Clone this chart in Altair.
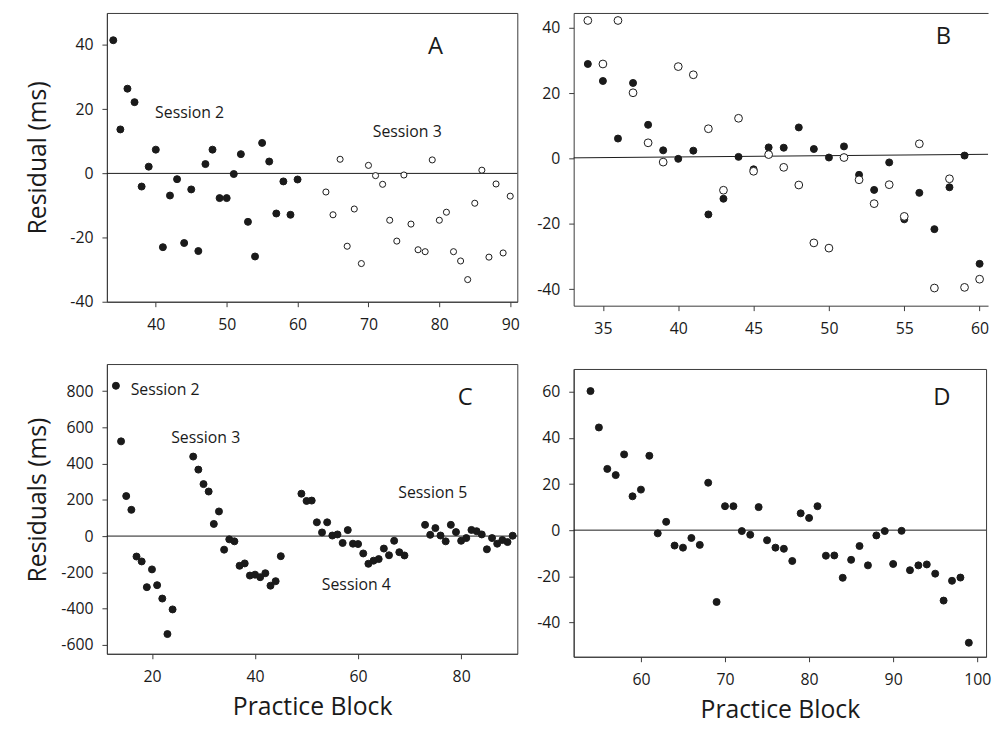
import altair as alt
import pandas as pd

FONT = "Open Sans"
INK = "#1a1a1a"
FRAME = "#3a3a3a"

# ---------------- data: panel A ----------------
a_s2_block = [34, 35, 36, 37, 38, 39, 40, 41, 42, 43, 44, 45, 46, 47, 48, 49, 50,
              51, 52, 53, 54, 55, 56, 57, 58, 59, 60]
a_s2_resid = [41.5, 13.7, 26.4, 22.2, -4.1, 2.1, 7.4, -23.0, -6.9, -1.8, -21.7, -5.0,
              -24.2, 2.9, 7.4, -7.7, -7.7, -0.2, 6.0, -15.1, -25.9, 9.5, 3.7, -12.5,
              -2.5, -12.9, -1.9]
a_s3_block = [64, 65, 66, 67, 68, 69, 70, 71, 72, 73, 74, 75, 76, 77, 78, 79, 80,
              81, 82, 83, 84, 85, 86, 87, 88, 89, 90]
a_s3_resid = [-5.8, -12.9, 4.4, -22.7, -11.1, -28.1, 2.5, -0.7, -3.4, -14.6, -21.1,
              -0.5, -15.8, -23.8, -24.4, 4.2, -14.6, -12.1, -24.4, -27.3, -33.1, -9.3,
              1.0, -26.1, -3.3, -24.8, -7.1]
a_note_text = ["Session 2", "Session 3"]
a_note_block = [39.9, 70.6]
a_note_resid = [18.9, 12.8]
a_letter = ["A"]
a_letter_block = [79.46]
a_letter_resid = [39.5]
a_xticks = [40, 50, 60, 70, 80, 90]
a_yticks = [-40, -20, 0, 20, 40]

# ---------------- data: panel B ----------------
b_block = [34, 35, 36, 37, 38, 39, 40, 41, 42, 43, 44, 45, 46, 47, 48, 49, 50,
           51, 52, 53, 54, 55, 56, 57, 58, 59, 60]
b_filled = [28.9, 23.7, 6.1, 23.1, 10.3, 2.5, -0.1, 2.4, -17.1, -12.3, 0.5, -3.3,
            3.4, 3.3, 9.5, 2.9, 0.3, 3.7, -5.0, -9.6, -1.2, -18.6, -10.5, -21.6,
            -8.8, 0.9, -32.2]
b_open = [42.2, 28.9, 42.2, 20.1, 4.8, -1.1, 28.1, 25.6, 9.1, -9.7, 12.3, -3.9,
          1.2, -2.7, -8.1, -25.8, -27.4, 0.3, -6.5, -13.8, -8.0, -17.7, 4.5, -39.6,
          -6.2, -39.4, -36.9]
b_fit_block = [33.06, 60.56]
b_fit_resid = [0.2, 1.29]
b_letter = ["B"]
b_letter_block = [57.59]
b_letter_resid = [37.0]
b_xticks = [35, 40, 45, 50, 55, 60]
b_yticks = [-40, -20, 0, 20, 40]

# ---------------- data: panel C ----------------
c_block = [13, 14, 15, 16, 17, 18, 19, 20, 21, 22, 23, 24,
           28, 29, 30, 31, 32, 33, 34, 35, 36, 37, 38, 39, 40, 41, 42, 43, 44, 45,
           49, 50, 51, 52, 53, 54, 55, 56, 57, 58, 59, 60, 61, 62, 63, 64, 65, 66,
           67, 68, 69,
           73, 74, 75, 76, 77, 78, 79, 80, 81, 82, 83, 84, 85, 86, 87, 88, 89, 90]
c_resid = [830, 523, 221, 145, -113, -140, -282, -184, -271, -345, -541, -405,
           439, 367, 287, 246, 67, 136, -75, -18, -29, -164, -151, -218, -213, -227,
           -205, -274, -249, -111,
           234, 194, 196, 76, 20, 76, 3, 9, -38, 33, -42, -44, -96, -153, -136, -127,
           -69, -106, -26, -89, -107,
           62, 7, 44, 3, -29, 62, 22, -26, -11, 34, 27, 9, -73, -11, -42, -22, -33, 2]
c_note_text = ["Session 2", "Session 3", "Session 4", "Session 5"]
c_note_block = [15.86, 23.73, 52.96, 67.8]
c_note_resid = [808, 540, -272, 240]
c_letter = ["C"]
c_letter_block = [80.79]
c_letter_resid = [763]
c_xticks = [20, 40, 60, 80]
c_yticks = [-600, -400, -200, 0, 200, 400, 600, 800]

# ---------------- data: panel D ----------------
d_block = [54, 55, 56, 57, 58, 59, 60, 61, 62, 63, 64, 65, 66, 67, 68, 69, 70, 71,
           72, 73, 74, 75, 76, 77, 78, 79, 80, 81, 82, 83, 84, 85, 86, 87, 88, 89,
           90, 91, 92, 93, 94, 95, 96, 97, 98, 99]
d_resid = [60.4, 44.6, 26.6, 23.9, 32.9, 14.7, 17.6, 32.3, -1.4, 3.6, -6.7, -7.6,
           -3.4, -6.4, 20.6, -31.2, 10.4, 10.4, -0.4, -2.0, 10.0, -4.4, -7.6, -8.1,
           -13.4, 7.3, 5.3, 10.4, -11.1, -11.0, -20.7, -12.9, -6.9, -15.3, -2.3, -0.4,
           -14.7, -0.3, -17.4, -15.3, -14.9, -18.9, -30.6, -22.0, -20.6, -48.9]
d_letter = ["D"]
d_letter_block = [95.8]
d_letter_resid = [57.3]
d_xticks = [60, 70, 80, 90, 100]
d_yticks = [-40, -20, 0, 20, 40, 60]

zero_level = [0]

y_title_top = "Residual (ms)"
y_title_bottom = "Residuals (ms)"
x_title = "Practice Block"

# ---------------- helpers ----------------
def x_axis(values, title=None, **kw):
    return alt.Axis(values=values, title=title, grid=False, tickSize=5,
                    tickColor=FRAME, domainColor=FRAME, labelFont=FONT,
                    labelFontSize=16, labelColor=INK, labelPadding=10,
                    labelExpr="'' + datum.value", labelFlush=False,
                    labelOverlap=False, titleFont=FONT, titleFontSize=25,
                    titleFontWeight="normal", titleColor=INK, **kw)


def y_axis(values, title=None, **kw):
    return alt.Axis(values=values, title=title, grid=False, tickSize=5,
                    tickColor=FRAME, domainColor=FRAME, labelFont=FONT,
                    labelFontSize=16, labelColor=INK, labelPadding=9,
                    labelExpr="'' + datum.value", labelOverlap=False,
                    titleFont=FONT, titleFontSize=25, titleFontWeight="normal",
                    titleColor=INK, **kw)


def text_layer(texts, blocks, resids, xs, ys, xax, yax, size, align):
    df = pd.DataFrame({"block": blocks, "resid": resids, "label": texts})
    return alt.Chart(df).mark_text(font=FONT, fontSize=size, color=INK,
                                   align=align, baseline="middle").encode(
        x=alt.X("block:Q", scale=xs, axis=xax),
        y=alt.Y("resid:Q", scale=ys, axis=yax),
        text="label:N",
    )


def point_layer(blocks, resids, xs, ys, xax, yax, filled, size):
    df = pd.DataFrame({"block": blocks, "resid": resids})
    return alt.Chart(df).mark_point(shape="circle", size=size, stroke=INK,
                                    strokeWidth=1, opacity=1, fillOpacity=1,
                                    fill=INK if filled else "#ffffff").encode(
        x=alt.X("block:Q", scale=xs, axis=xax),
        y=alt.Y("resid:Q", scale=ys, axis=yax),
    )


def zero_rule(ys, yax):
    return alt.Chart(pd.DataFrame({"resid": zero_level})).mark_rule(
        color=INK, strokeWidth=1).encode(y=alt.Y("resid:Q", scale=ys, axis=yax))


FILLED_SIZE = 50

# ---------------- panel A ----------------
xsA = alt.Scale(domain=[33.1, 91], nice=False, zero=False)
ysA = alt.Scale(domain=[-40, 50], nice=False, zero=False)
xaA = x_axis(a_xticks)
yaA = y_axis(a_yticks, title=y_title_top, titleX=-70, titleY=146,
             titleAngle=270, titleAlign="center", titleBaseline="middle")
panelA = alt.layer(
    zero_rule(ysA, yaA),
    point_layer(a_s2_block, a_s2_resid, xsA, ysA, xaA, yaA, True, FILLED_SIZE),
    point_layer(a_s3_block, a_s3_resid, xsA, ysA, xaA, yaA, False, 38),
    text_layer(a_note_text, a_note_block, a_note_resid, xsA, ysA, xaA, yaA, 16, "left"),
    text_layer(a_letter, a_letter_block, a_letter_resid, xsA, ysA, xaA, yaA, 24, "center"),
).properties(width=415, height=292)

# ---------------- panel B ----------------
xsB = alt.Scale(domain=[33.06, 60.56], nice=False, zero=False)
ysB = alt.Scale(domain=[-45, 44.5], nice=False, zero=False)
xaB = x_axis(b_xticks)
yaB = y_axis(b_yticks)
fitB = alt.Chart(pd.DataFrame({"block": b_fit_block, "resid": b_fit_resid})).mark_line(
    color=INK, strokeWidth=1).encode(
    x=alt.X("block:Q", scale=xsB,
            axis=alt.Axis(orient="top", labels=False, ticks=False, domain=True,
                          domainColor=FRAME, grid=False, title=None)),
    y=alt.Y("resid:Q", scale=ysB, axis=yaB),
)
panelB = alt.layer(
    fitB,
    point_layer(b_block, b_filled, xsB, ysB, xaB, yaB, True, FILLED_SIZE),
    point_layer(b_block, b_open, xsB, ysB, None, yaB, False, 62),
    text_layer(b_letter, b_letter_block, b_letter_resid, xsB, ysB, None, yaB, 24, "center"),
).resolve_axis(x="independent").properties(
    width=419, height=296, view=alt.ViewBackground(stroke="transparent"))

# ---------------- panel C ----------------
xsC = alt.Scale(domain=[11.25, 90.9], nice=False, zero=False)
ysC = alt.Scale(domain=[-650, 950], nice=False, zero=False)
xaC = x_axis(c_xticks, title=x_title, titleY=53, titleBaseline="middle")
yaC = y_axis(c_yticks, title=y_title_bottom, titleX=-70, titleY=137,
             titleAngle=270, titleAlign="center", titleBaseline="middle")
panelC = alt.layer(
    zero_rule(ysC, yaC),
    point_layer(c_block, c_resid, xsC, ysC, xaC, yaC, True, FILLED_SIZE),
    text_layer(c_note_text, c_note_block, c_note_resid, xsC, ysC, xaC, yaC, 16, "left"),
    text_layer(c_letter, c_letter_block, c_letter_resid, xsC, ysC, xaC, yaC, 24, "center"),
).properties(width=415, height=293)

# ---------------- panel D ----------------
xsD = alt.Scale(domain=[52, 101.05], nice=False, zero=False)
ysD = alt.Scale(domain=[-55, 70], nice=False, zero=False)
xaD = x_axis(d_xticks, title=x_title, titleY=53, titleBaseline="middle")
yaD = y_axis(d_yticks)
panelD = alt.layer(
    zero_rule(ysD, yaD),
    point_layer(d_block, d_resid, xsD, ysD, xaD, yaD, True, FILLED_SIZE),
    text_layer(d_letter, d_letter_block, d_letter_resid, xsD, ysD, xaD, yaD, 24, "center"),
).properties(width=417, height=291)

col1 = alt.vconcat(panelA, panelC, spacing=63, bounds="flush")
col2 = alt.vconcat(panelB, panelD, spacing=64, bounds="flush")

chart = alt.hconcat(col1, col2, spacing=16).properties(
    padding={"left": 17, "top": 0, "right": 0, "bottom": 0},
    background="white",
).configure_view(stroke=FRAME, strokeWidth=1)

chart.save("out.html", embed_options={"renderer": "svg", "actions": False})
